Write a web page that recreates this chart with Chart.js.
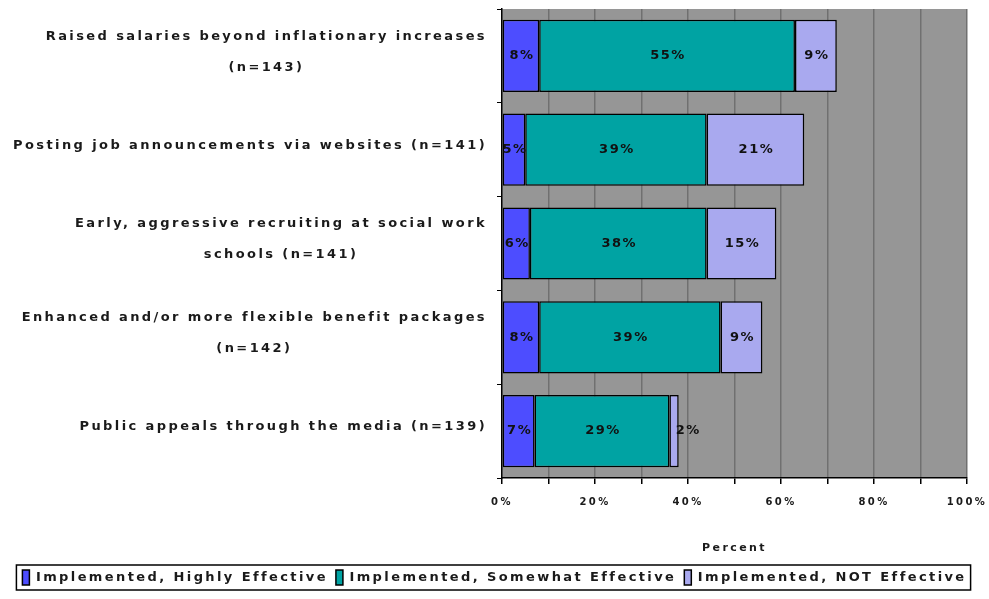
<!DOCTYPE html>
<html>
<head>
<meta charset="utf-8">
<script src="https://cdn.jsdelivr.net/npm/chart.js@4"></script>
<style>
  body { margin: 0; background: #fff; }
  canvas { display: block; }
</style>
</head>
<body>
<canvas id="chart" width="989" height="599"></canvas>
<script>
// category labels, split the way the original wraps them
const categories = [
  ["Raised salaries beyond inflationary increases", "(n=143)"],
  ["Posting job announcements via websites (n=141)"],
  ["Early, aggressive recruiting at social work", "schools (n=141)"],
  ["Enhanced and/or more flexible benefit packages", "(n=142)"],
  ["Public appeals through the media (n=139)"],
];

const seriesNames = [
  "Implemented, Highly Effective",
  "Implemented, Somewhat Effective",
  "Implemented, NOT Effective",
];
const highlyEffective = [8, 5, 6, 8, 7];
const somewhatEffective = [55, 39, 38, 39, 29];
const notEffective = [9, 21, 15, 9, 2];

const LETTER_SPACING = "2.4px";
const labelFont = 'bold 13px "DejaVu Sans"';

// keep the wide letter spacing on the canvas (it gets reset on resize)
const spacingPlugin = {
  id: "spacing",
  beforeLayout(chart) {
    chart.ctx.letterSpacing = LETTER_SPACING;
  },
  beforeDraw(chart) {
    const { ctx, chartArea } = chart;
    ctx.letterSpacing = LETTER_SPACING;
    ctx.save();
    ctx.fillStyle = "#969696";
    ctx.fillRect(chartArea.left, chartArea.top, chartArea.right - chartArea.left, chartArea.bottom - chartArea.top);
    ctx.restore();
  },
};

// right aligned label blocks, extra lines centred under the first line
const categoryLabels = {
  id: "categoryLabels",
  afterDraw(chart) {
    const { ctx } = chart;
    const y = chart.scales.y;
    ctx.save();
    ctx.font = labelFont;
    ctx.letterSpacing = LETTER_SPACING;
    ctx.fillStyle = "#1a1a1a";
    ctx.textBaseline = "middle";
    ctx.textAlign = "center";
    categories.forEach((lines, i) => {
      const yc = y.getPixelForValue(i) - 4;
      const firstWidth = ctx.measureText(lines[0]).width;
      const center = 487 - firstWidth / 2;
      lines.forEach((line, j) => {
        ctx.fillText(line, center, yc + (j - (lines.length - 1) / 2) * 31);
      });
    });
    ctx.restore();
  },
};

// percentage labels inside the segments
const valueLabels = {
  id: "valueLabels",
  afterDatasetsDraw(chart) {
    const { ctx } = chart;
    ctx.save();
    ctx.font = labelFont;
    ctx.letterSpacing = "1.5px";
    ctx.fillStyle = "#111";
    ctx.textBaseline = "middle";
    ctx.textAlign = "center";
    chart.data.datasets.forEach((ds, di) => {
      chart.getDatasetMeta(di).data.forEach((bar, i) => {
        const text = ds.data[i] + "%";
        const w = ctx.measureText(text).width;
        let x = (bar.x + bar.base) / 2 + 1;
        // very thin segment: the label hangs off its right end
        if (bar.x - bar.base < w / 2) x = bar.x - 3 + w / 2;
        ctx.fillText(text, x, bar.y);
      });
    });
    ctx.restore();
  },
};

// box round the legend
const legendBox = {
  id: "legendBox",
  afterDraw(chart) {
    const boxes = chart.legend.legendHitBoxes;
    if (!boxes || !boxes.length) return;
    const left = Math.min(...boxes.map((b) => b.left)) - 6;
    const right = Math.max(...boxes.map((b) => b.left + b.width)) + 4;
    const top = boxes[0].top - 5;
    const bottom = boxes[0].top + boxes[0].height + 5;
    const ctx = chart.ctx;
    ctx.save();
    ctx.strokeStyle = "#000";
    ctx.lineWidth = 1.5;
    ctx.strokeRect(left, top, right - left, bottom - top);
    ctx.restore();
  },
};

const ctx = document.getElementById("chart").getContext("2d");
const chart = new Chart(ctx, {
  type: "bar",
  data: {
    labels: categories.map((lines) => lines.join(" ")),
    datasets: [
      { label: seriesNames[0], data: highlyEffective, backgroundColor: "#4d4dff" },
      { label: seriesNames[1], data: somewhatEffective, backgroundColor: "#00a3a3" },
      { label: seriesNames[2], data: notEffective, backgroundColor: "#a9a9ef" },
    ].map((ds) => ({
      ...ds,
      borderColor: "#000",
      borderWidth: 1.5,
      borderSkipped: false,
      barPercentage: 0.77,
      categoryPercentage: 1,
    })),
  },
  options: {
    indexAxis: "y",
    responsive: false,
    animation: false,
    layout: { padding: { top: 9, left: 0, right: 0, bottom: 4 } },
    scales: {
      x: {
        stacked: true,
        min: 0,
        max: 100,
        ticks: {
          stepSize: 10,
          autoSkip: false,
          maxRotation: 0,
          padding: 12,
          color: "#1a1a1a",
          font: { family: "DejaVu Sans", size: 10, weight: "bold" },
          callback: (value) => (value % 20 === 0 ? value + "%" : ""),
        },
        grid: {
          color: (c) => (c.tick && c.tick.value === 0 ? "rgba(0,0,0,0)" : "#707070"),
          lineWidth: 1.5,
          tickColor: "#000",
          tickLength: 6,
        },
        border: { color: "#000", width: 1.5 },
        title: {
          display: true,
          text: "Percent",
          color: "#1a1a1a",
          font: { family: "DejaVu Sans", size: 11, weight: "bold" },
          padding: { top: 0, bottom: 7 },
        },
        afterFit(scale) {
          scale.height = 84;
          scale.paddingLeft = 0;
          scale.paddingRight = 22;
        },
      },
      y: {
        stacked: true,
        ticks: { display: false },
        grid: {
          drawOnChartArea: false,
          drawTicks: true,
          tickLength: 5,
          tickColor: "#000",
        },
        border: { color: "#000", width: 1.5 },
        afterFit(scale) {
          scale.width = 502;
        },
      },
    },
    plugins: {
      tooltip: { enabled: false },
      legend: {
        position: "bottom",
        labels: {
          color: "#1a1a1a",
          boxWidth: 7,
          boxHeight: 15,
          padding: 8,
          font: { family: "DejaVu Sans", size: 13, weight: "bold" },
        },
      },
    },
  },
  plugins: [spacingPlugin, categoryLabels, valueLabels, legendBox],
});
</script>
</body>
</html>
